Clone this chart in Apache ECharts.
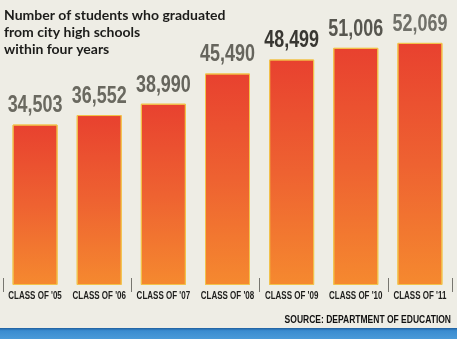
<!DOCTYPE html>
<html>
<head>
<meta charset="utf-8">
<script src="https://cdn.jsdelivr.net/npm/echarts@6/dist/echarts.min.js"></script>
<style>
html,body{margin:0;padding:0;background:#eeede5;}
#chart{width:457px;height:339px;}
</style>
</head>
<body>
<div id="chart"></div>
<script>
const categories = ["CLASS OF '05","CLASS OF '06","CLASS OF '07","CLASS OF '08","CLASS OF '09","CLASS OF '10","CLASS OF '11"];
const graduates = [34503, 36552, 38990, 45490, 48499, 51006, 52069];
const titleLines = ["Number of students who graduated", "from city high schools", "within four years"];
const sourceText = "SOURCE: DEPARTMENT OF EDUCATION";

const chart = echarts.init(document.getElementById('chart'), null, {renderer:'canvas'});
const labelColors = ['#6a6960','#6a6960','#66655d','#66655d','#383732','#57564f','#707069'];

const barGradient = new echarts.graphic.LinearGradient(0,0,0,1,[
  {offset:0,color:'#e8412f'},
  {offset:0.5,color:'#ee6231'},
  {offset:1,color:'#f5892f'}
]);

const staticGraphics = [
  {type:'text',left:4,top:7,style:{
    text:titleLines.join('\n'),
    font:'bold 14px Lato, "Open Sans", sans-serif',
    lineHeight:17,fill:'#1c1c1a'
  }},
  {type:'text',x:451,y:320,scaleX:0.85,style:{
    text:sourceText,textAlign:'right',textVerticalAlign:'middle',
    font:'900 10px "Liberation Sans", Arial, sans-serif',
    fill:'#111'
  }},
  {type:'rect',left:0,top:328,shape:{width:457,height:11},style:{
    fill:new echarts.graphic.LinearGradient(0,0,0,1,[
      {offset:0,color:'#1f5f9e'},{offset:0.25,color:'#3a8cd0'},{offset:1,color:'#4a9ad8'}
    ])
  }}
];

chart.setOption({
  backgroundColor:'#eeede5',
  animation:false,
  grid:{left:3,right:5,top:6,bottom:54,containLabel:false},
  xAxis:[{
    type:'category',
    data:categories,
    axisLine:{show:false},
    axisTick:{show:true,length:7,lineStyle:{color:'#77766f',width:1}},
    axisLabel:{show:false}
  },{
    type:'category',
    data:categories,
    position:'bottom',
    axisLine:{show:false},
    axisTick:{show:true,inside:true,length:7,lineStyle:{color:'#77766f',width:1}},
    axisLabel:{show:false}
  }],
  yAxis:{type:'value',min:0,max:60000,show:false,splitLine:{show:false}},
  series:[{
    type:'bar',
    xAxisIndex:0,
    data:graduates,
    barWidth:45,
    itemStyle:{color:barGradient,borderColor:'#f2c24a',borderWidth:1},
    label:{show:false}
  }]
});

// value labels and category labels, positioned through the chart's own scales (condensed via scaleX)
const extra = [];
graduates.forEach((v,i)=>{
  const top = chart.convertToPixel({xAxisIndex:0,yAxisIndex:0},[i,v]);
  extra.push({type:'text',x:top[0],y:top[1]-7,scaleX:0.78,style:{
    text:v.toLocaleString('en-US'),textAlign:'center',textVerticalAlign:'bottom',
    font:'bold 23px "Liberation Sans", Arial, sans-serif',fill:labelColors[i]
  }});
  const base = chart.convertToPixel({xAxisIndex:0,yAxisIndex:0},[i,0]);
  extra.push({type:'text',x:base[0],y:base[1]+11,scaleX:0.8,style:{
    text:categories[i],textAlign:'center',textVerticalAlign:'middle',
    font:'bold 10px "Liberation Sans", Arial, sans-serif',fill:'#1e1e1c'
  }});
});
chart.setOption({graphic:staticGraphics.concat(extra)});
</script>
</body>
</html>
